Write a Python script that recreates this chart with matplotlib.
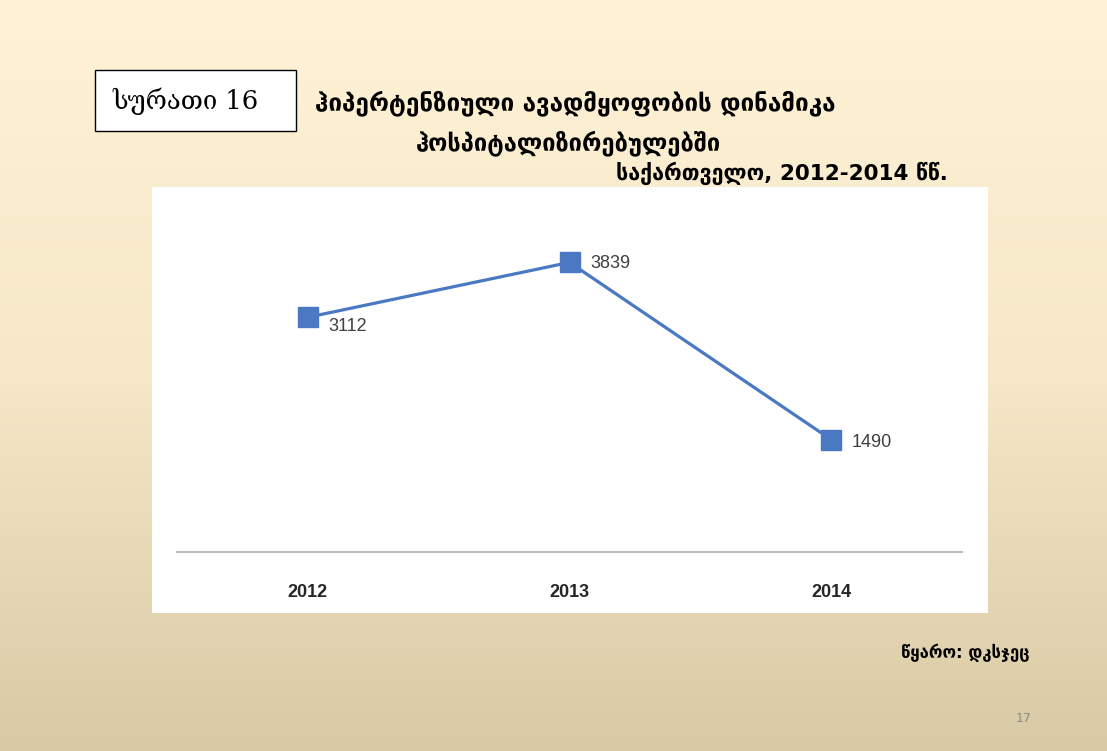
import numpy as np
import matplotlib.pyplot as plt
from matplotlib.colors import LinearSegmentedColormap

# მონაცემები
years = ['2012', '2013', '2014']
cases = [3112, 3839, 1490]

title_1 = 'ჰიპერტენზიული ავადმყოფობის დინამიკა'
title_2 = 'ჰოსპიტალიზირებულებში'
subtitle = 'საქართველო, 2012-2014 წწ.'
fig_label = 'სურათი 16'
source = 'წყარო: დკსჯეც'
page_no = '17'

W, H = 1107, 751
fig = plt.figure(figsize=(W / 100, H / 100), dpi=100)

# სლაიდის ფონი - ვერტიკალური გრადიენტი (ზემოთ ღია, ქვემოთ მუქი)
bg = fig.add_axes([0, 0, 1, 1], zorder=-1)
grad = LinearSegmentedColormap.from_list('slide', ['#FFF2D6', '#F6E8C8', '#D8CAA4'])
bg.imshow(np.linspace(0, 1, 256).reshape(-1, 1), aspect='auto', cmap=grad,
          extent=[0, W, H, 0], origin='upper')
bg.set_xlim(0, W)
bg.set_ylim(H, 0)
bg.axis('off')

# დიაგრამის თეთრი ფართობი
bg.add_patch(plt.Rectangle((152, 187), 988 - 152, 613 - 187,
                           facecolor='white', edgecolor='none', zorder=2))

# სურათის ნომერი ჩარჩოში
bg.add_patch(plt.Rectangle((95, 70), 296 - 95, 131 - 70,
                           facecolor='white', edgecolor='black', lw=1, zorder=2))
bg.text(186, 101, fig_label, ha='center', va='center',
        fontsize=18.5, family='DejaVu Serif', zorder=3)

ax = fig.add_axes([177 / W, 1 - 552 / H, (962 - 177) / W, (552 - 205) / H])
ax.set_facecolor('none')
x = np.arange(len(years))
ax.plot(x, cases, color='#4A78C2', lw=2.3, marker='s', markersize=14,
        markerfacecolor='#4A78C2', markeredgecolor='#4A78C2', zorder=3)
for xi, v, dy in zip(x, cases, [-7, -1, -2]):
    ax.annotate(str(v), (xi, v), xytext=(15, dy), textcoords='offset points',
                va='center', ha='left', fontsize=13, color='#404040',
                family='Liberation Sans')

ax.set_xlim(-0.5, 2.5)
ax.set_ylim(0, 4600)
ax.set_xticks(x)
ax.set_xticklabels(years, fontsize=13, fontweight='bold', color='#262626',
                   family='Liberation Sans')
ax.tick_params(axis='x', length=0, pad=23)
ax.set_yticks([])
for s in ['top', 'right', 'left']:
    ax.spines[s].set_visible(False)
ax.spines['bottom'].set_color('#BFBFBF')
ax.spines['bottom'].set_linewidth(1.5)

# სათაურები
fig.text(575 / W, 1 - 103 / H, title_1, ha='center', va='center',
         fontsize=17.5, fontweight='bold', family='DejaVu Sans')
fig.text(568 / W, 1 - 143 / H, title_2, ha='center', va='center',
         fontsize=17, fontweight='bold', family='DejaVu Sans')
fig.text(948 / W, 1 - 173 / H, subtitle, ha='right', va='center',
         fontsize=15.5, fontweight='bold', family='DejaVu Sans')

fig.text(1030 / W, 1 - 653 / H, source, ha='right', va='center',
         fontsize=12, fontweight='bold', family='DejaVu Sans')
fig.text(1032 / W, 1 - 718 / H, page_no, ha='right', va='center',
         fontsize=9, color='#8C8C8C')

fig.savefig('out.png', dpi=100)
